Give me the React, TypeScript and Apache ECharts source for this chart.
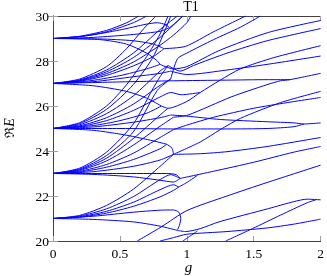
import React, { useEffect, useRef } from "react";
import * as echarts from "echarts";

// ---- axis ticks ----
const xTicks = [0, 0.5, 1, 1.5, 2];
const yTicks = [20, 22, 24, 26, 28, 30];

// ---- level 29 family ----
const c29a = [[0, 29], [0.2, 29.1], [0.4, 29.36], [0.55, 29.7], [0.64, 30]];
const c29b = [[0, 29], [0.2, 29.08], [0.4, 29.3], [0.6, 29.7], [0.7, 30]];
const c29c = [[0, 29], [0.25, 29.12], [0.5, 29.38], [0.7, 29.64], [0.78, 29.7], [0.84, 29.62], [0.87, 29.48]];
const c29d = [[0, 29], [0.3, 29.05], [0.6, 29.18], [0.8, 29.32], [0.87, 29.48]];
const c29e = [[0.87, 29.48], [0.92, 29.72], [0.97, 30]];
const c29f = [[0, 29], [0.35, 28.98], [0.6, 28.9], [0.75, 28.75], [0.83, 28.55]];
const c29g = [[0, 29], [0.35, 28.95], [0.55, 28.75], [0.7, 28.35], [0.78, 28.0], [0.8, 27.85]];

// ---- level 27 family ----
const c27a = [[0, 27], [0.2, 27.2], [0.4, 27.75], [0.55, 28.55], [0.68, 29.45], [0.77, 30]];
const c27b = [[0, 27], [0.2, 27.16], [0.4, 27.6], [0.6, 28.35], [0.8, 29.4], [0.93, 30]];
const c27c = [[0, 27], [0.2, 27.14], [0.4, 27.52], [0.6, 28.15], [0.8, 29.05], [0.97, 30]];
const c27d = [[0, 27], [0.2, 27.12], [0.4, 27.44], [0.6, 27.95], [0.8, 28.7], [0.9, 29.15], [1.0, 29.7], [1.03, 30]];
const c27e = [[0, 27], [0.2, 27.1], [0.4, 27.36], [0.6, 27.78], [0.75, 28.2], [0.83, 28.55]];
const c27f = [[0, 27], [0.25, 27.1], [0.5, 27.35], [0.7, 27.65], [0.8, 27.85]];
const c27g = [[0, 27], [0.3, 27.08], [0.6, 27.3], [0.8, 27.45], [0.88, 27.55]];
const c27flat = [[0, 27], [0.5, 27.07], [0.9, 27.12], [1.3, 27.15], [1.6, 27.17], [1.77, 27.17]];
const c27down = [[0, 27], [0.3, 26.9], [0.55, 26.65], [0.7, 26.35], [0.81, 26.0]];

// ---- level 25 family ----
const c25a = [[0, 25], [0.2, 25.26], [0.4, 26.0], [0.55, 26.95], [0.7, 28.2], [0.8, 29.2], [0.86, 30]];
const c25b = [[0, 25], [0.2, 25.22], [0.4, 25.85], [0.6, 26.95], [0.75, 28.2], [0.88, 30]];
const c25c = [[0, 25], [0.2, 25.17], [0.4, 25.66], [0.6, 26.45], [0.8, 27.55], [0.86, 27.8]];
const c25d = [[0, 25], [0.2, 25.12], [0.4, 25.48], [0.6, 26.08], [0.8, 26.92], [0.88, 27.2]];
const c25e = [[0, 25], [0.2, 25.09], [0.4, 25.35], [0.6, 25.8], [0.8, 26.4], [0.88, 26.6], [0.96, 26.5], [1.1, 26.6]];
const c25f = [[0, 25], [0.3, 25.13], [0.5, 25.35], [0.7, 25.68], [0.81, 26.0]];
const c25g = [[0, 25], [0.3, 25.07], [0.6, 25.28], [0.8, 25.48], [0.88, 25.6]];
const c25flat = [[0, 25], [0.5, 25.0], [0.9, 24.98], [1.3, 24.98], [1.6, 25.0], [1.8, 25.08], [1.875, 25.2]];
const c25down = [[0, 25], [0.3, 24.92], [0.55, 24.7], [0.75, 24.45], [0.85, 24.3]];
const c25loop = [[0.88, 25.6], [1.0, 25.55], [1.25, 25.4], [1.6, 25.3], [1.8, 25.25], [1.875, 25.2], [2, 25.25]];

// ---- level 23 family ----
const c23a = [[0, 23], [0.2, 23.24], [0.4, 23.95], [0.6, 25.2], [0.74, 26.7], [0.8, 27.3], [0.86, 27.8]];
const c23b = [[0, 23], [0.2, 23.2], [0.4, 23.8], [0.6, 24.85], [0.78, 26.7], [0.88, 27.2]];
const c23c = [[0, 23], [0.2, 23.17], [0.4, 23.68], [0.6, 24.55], [0.8, 25.6], [0.86, 25.9]];
const c23d = [[0, 23], [0.2, 23.14], [0.4, 23.56], [0.6, 24.26], [0.8, 25.1], [0.9, 25.5]];
const c23e = [[0, 23], [0.2, 23.1], [0.4, 23.4], [0.6, 23.9], [0.8, 24.6], [0.9, 24.95]];
const c23f = [[0, 23], [0.2, 23.07], [0.4, 23.28], [0.6, 23.62], [0.8, 24.1], [0.85, 24.3]];
const c23g = [[0, 23], [0.3, 23.08], [0.6, 23.32], [0.8, 23.6], [0.9, 23.85]];
const c23flat = [[0, 23], [0.5, 23.0], [0.85, 23.0], [0.92, 22.95], [0.95, 22.78]];
const c23down = [[0, 23], [0.3, 22.96], [0.6, 22.85], [0.8, 22.7], [0.9, 22.62], [0.95, 22.78]];

// ---- level 21 family ----
const c21a = [[0, 21], [0.2, 21.14], [0.4, 21.58], [0.6, 22.3], [0.81, 23.37], [0.9, 23.85]];
const c21b = [[0, 21], [0.2, 21.11], [0.4, 21.43], [0.6, 21.97], [0.8, 22.73], [0.88, 22.95], [0.95, 22.78]];
const c21c = [[0, 21], [0.2, 21.08], [0.4, 21.32], [0.6, 21.72], [0.8, 22.28], [0.9, 22.5], [0.94, 22.4]];
const c21d = [[0, 21], [0.2, 21.06], [0.4, 21.24], [0.6, 21.54], [0.8, 21.96], [0.9, 22.25], [0.94, 22.4]];
const c21e = [[0, 21], [0.3, 21.1], [0.6, 21.28], [0.8, 21.37], [0.9, 21.38], [0.94, 21.28], [0.955, 21.0], [0.945, 20.7], [0.93, 20.5]];
const c21down = [[0, 21], [0.3, 20.96], [0.6, 20.85], [0.8, 20.66], [0.93, 20.47]];
const c21loop = [[0.93, 20.47], [0.99, 20.42], [1.1, 20.55], [1.24, 20.85], [1.61, 21.44], [1.8, 21.75], [1.9, 21.86], [1.97, 21.84], [2, 21.83]];

// ---- curves entering from below ----
const low1 = [[0.63, 20], [0.81, 20.63], [1.0, 21.35], [1.3, 22.0], [1.6, 22.6], [2, 23.37]];
const low2 = [[0.8, 20], [0.9, 20.15], [1.0, 20.3], [1.3, 20.42], [1.6, 20.58], [1.8, 20.75], [2, 20.97]];
const low3 = [[0.97, 20], [1.02, 20.2], [1.08, 20.45]];
const low4 = [[1.29, 20], [1.49, 20.55], [1.7, 21.15], [1.9, 21.7], [1.97, 21.84]];

// ---- branches beyond the crossing zone ----
const j1 = [[0.85, 24.3], [0.89, 24.12], [0.9, 23.85]];
const j2 = [[0.94, 22.4], [1.0, 22.6], [1.08, 22.92]];
const rA = [[0.95, 22.78], [1.2, 23.1], [1.5, 23.5], [1.8, 23.95], [2, 24.2]];
const rB = [[0.9, 23.85], [1.1, 23.88], [1.3, 23.97], [1.6, 24.2], [2, 24.6]];
const rC = [[0.9, 23.85], [1.1, 24.4], [1.25, 24.95], [1.4, 25.45], [1.7, 26.15], [2, 26.65]];
const rD = [[0.9, 24.95], [1.0, 25.15], [1.2, 25.5], [1.5, 25.9], [1.75, 26.15], [2, 26.38]];
const rE = [[0.9, 25.5], [1.01, 25.6], [1.33, 26.4], [1.6, 26.95], [1.7, 27.12], [1.77, 27.17], [1.88, 27.3], [2, 27.45]];
const rF = [[0.81, 26.0], [0.86, 25.9], [1.0, 26.2], [1.1, 26.6], [1.25, 27.15], [1.4, 27.65], [1.65, 28.15], [2, 28.68]];
const rG = [[0.88, 27.55], [1.0, 27.4], [1.3, 27.6], [1.6, 27.85], [2, 28.22]];
const rH = [[0.8, 27.85], [0.9, 27.65], [1.0, 27.75], [1.24, 28.46], [1.61, 29.27], [2, 29.8]];
const rI = [[0.86, 27.8], [0.95, 27.55], [1.05, 27.8], [1.3, 28.35], [1.6, 28.9], [2, 29.44]];
const rJ = [[0.83, 28.55], [0.99, 28.65], [1.2, 29.3], [1.44, 30]];
const rK = [[0.88, 27.2], [0.93, 28.1], [1.0, 28.35], [1.2, 28.95], [1.4, 29.5], [1.55, 30]];

const curves = [
  c29a, c29b, c29c, c29d, c29e, c29f, c29g,
  c27a, c27b, c27c, c27d, c27e, c27f, c27g, c27flat, c27down,
  c25a, c25b, c25c, c25d, c25e, c25f, c25g, c25flat, c25down, c25loop,
  c23a, c23b, c23c, c23d, c23e, c23f, c23g, c23flat, c23down,
  c21a, c21b, c21c, c21d, c21e, c21down, c21loop,
  low1, low2, low3, low4,
  j1, j2, rA, rB, rC, rD, rE, rF, rG, rH, rI, rJ, rK,
];

const SERIF = "'Liberation Serif', 'DejaVu Serif', serif";

export default function App() {
  const ref = useRef<HTMLDivElement>(null);
  useEffect(() => {
    document.body.style.margin = "0";
    const chart = echarts.init(ref.current!, null, { renderer: "svg" });
    const frame = { show: true, lineStyle: { color: "#404040", width: 1 } };
    const tick = { show: true, inside: true, length: 5, lineStyle: { color: "#a0a0a0", width: 1 } };
    const xBase = { type: "value", min: xTicks[0], max: xTicks[xTicks.length - 1], interval: 0.5, splitLine: { show: false }, axisLine: frame, axisTick: tick };
    const yBase = { type: "value", min: yTicks[0], max: yTicks[yTicks.length - 1], interval: 2, splitLine: { show: false }, axisLine: frame, axisTick: tick };
    chart.setOption({
      animation: false,
      grid: { left: 53, top: 16, width: 271, height: 225, containLabel: false },
      xAxis: [
        { ...xBase, position: "bottom", axisLabel: { color: "#000", fontFamily: SERIF, fontSize: 13.5, margin: 5, formatter: (v: number) => String(v) } },
        { ...xBase, position: "top", axisLabel: { show: false } },
      ],
      yAxis: [
        { ...yBase, position: "left", axisLabel: { color: "#000", fontFamily: SERIF, fontSize: 13.5, margin: 4 } },
        { ...yBase, position: "right", axisLabel: { show: false } },
      ],
      graphic: [
        { type: "text", x: 191, y: 6, style: { text: "T1", fontFamily: SERIF, fontSize: 14, fill: "#000", textAlign: "center", textVerticalAlign: "middle" } },
        { type: "text", x: 188.5, y: 267, style: { text: "g", fontFamily: SERIF, fontStyle: "italic", fontSize: 15, fill: "#000", textAlign: "center", textVerticalAlign: "middle" } },
        {
          type: "text", x: 9.5, y: 128, rotation: Math.PI / 2,
          style: {
            text: "{r|ℜ}{e|E}", textAlign: "center", textVerticalAlign: "middle", fill: "#000",
            rich: { r: { fontFamily: "'DejaVu Serif', serif", fontSize: 13, fill: "#000" }, e: { fontFamily: SERIF, fontStyle: "italic", fontSize: 14, fill: "#000" } },
          },
        },
      ],
      series: curves.map((d) => ({
        type: "line", data: d, xAxisIndex: 0, yAxisIndex: 0, showSymbol: false, symbol: "none",
        smooth: 0.25, silent: true, clip: true,
        lineStyle: { color: "#0000ff", width: 1 },
      })),
    });
    return () => chart.dispose();
  }, []);
  return <div ref={ref} style={{ position: "fixed", left: 0, top: 0, width: 327, height: 276 }} />;
}
